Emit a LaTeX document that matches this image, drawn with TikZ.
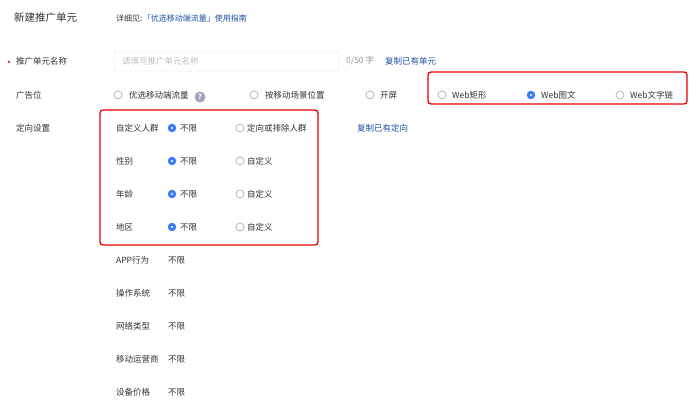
\documentclass[tikz,border=0pt]{standalone}
\usepackage{fontspec}
\setmainfont{Noto Sans CJK SC}
\definecolor{rblue}{HTML}{3B7CF6}
\definecolor{lblue}{HTML}{1F4FA0}
\begin{document}
\begin{tikzpicture}[x=1pt,y=-1pt,
  lab/.style={anchor=west,inner sep=0,font=\fontsize{8.5}{10}\selectfont,text=black!80},
  link/.style={lab,text=lblue},
  gray/.style={lab,text=black!40},
  rad/.style={draw=black!35,line width=0.6pt,circle,minimum size=8pt,inner sep=0},
  radon/.style={circle,fill=rblue,minimum size=8.5pt,inner sep=0,
    path picture={\fill[white] (path picture bounding box.center) circle (1.2pt);}},
  redbox/.style={draw=red!90!black,line width=1.3pt,rounded corners=3pt}]
\useasboundingbox (0,0) rectangle (691,403);
\fill[white] (0,0) rectangle (691,403);
\node[lab,font=\fontsize{10.5}{12}\selectfont] (title) at (14,18) {新建推广单元};
\node[lab,font=\fontsize{8}{10}\selectfont] (see) at (116,18) {详细见:};
\node[link,font=\fontsize{8}{10}\selectfont] (guide) at (see.east) {「优选移动端流量」使用指南};
% row 1
\node[circle,fill=red,inner sep=0,minimum size=2.5pt] (star) at (9,62) {};
\node[lab] (l1) at (16,61) {推广单元名称};
\draw[black!15,rounded corners=2pt] (114,52) rectangle (339,71);
\node[gray,text=black!25] (ph) at (122,61) {请填写推广单元名称};
\node[gray] (cnt) at (346,61) {0/50 字};
\node[link] (copy1) at (385,61) {复制已有单元};
% row 2
\node[lab] (l2) at (16,95) {广告位};
\node[rad] (r1) at (118,95) {}; \node[lab] (t1) at (129,95) {优选移动端流量};
\node[circle,fill=blue!20!gray!60,text=white,inner sep=0,minimum size=11pt,font=\fontsize{7}{8}\selectfont\bfseries] (q) at (200,97) {?};
\node[rad] (r2) at (254,95) {}; \node[lab] (t2) at (265,95) {按移动场景位置};
\node[rad] (r3) at (370,95) {}; \node[lab] (t3) at (380,95) {开屏};
\draw[redbox] (428,72) rectangle (687,104);
\node[rad] (r4) at (442,95) {}; \node[lab] (t4) at (452,95) {Web矩形};
\node[radon] (r5) at (531,95) {}; \node[lab] (t5) at (541,95) {Web图文};
\node[rad] (r6) at (620,95) {}; \node[lab] (t6) at (630,95) {Web文字链};
% row 3
\node[lab] (l3) at (16,128) {定向设置};
\draw[redbox] (100,110) rectangle (318,245);
\node[lab] (a1) at (116,128) {自定义人群};
\node[radon] (a1r) at (172,128) {}; \node[lab] (a1t) at (180,128) {不限};
\node[rad] (a1r2) at (240,128) {}; \node[lab] (a1t2) at (247,128) {定向或排除人群};
\node[link] (copy2) at (357,128) {复制已有定向};
\foreach \n/\y/\t in {b/161/性别,c/194/年龄,d/227/地区}{
  \node[lab] (\n) at (116,\y) {\t};
  \node[radon] (\n r) at (172,\y) {}; \node[lab] (\n t) at (180,\y) {不限};
  \node[rad] (\n r2) at (240,\y) {}; \node[lab] (\n t2) at (247,\y) {自定义};
}
\foreach \n/\y/\t in {e/260/APP行为,f/293/操作系统,g/326/网络类型,h/359/移动运营商,i/392/设备价格}{
  \node[lab] (\n) at (116,\y) {\t};
  \node[lab] (\n v) at (168,\y) {不限};
}
\end{tikzpicture}
\end{document}
